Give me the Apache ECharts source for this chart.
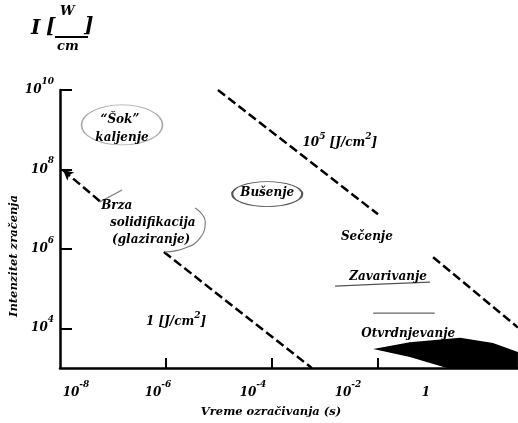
<!DOCTYPE html>
<html><head><meta charset="utf-8">
<script src="https://cdn.jsdelivr.net/npm/echarts@6/dist/echarts.min.js"></script>
<style>html,body{margin:0;padding:0;background:#fff}#c{width:518px;height:423px}</style>
</head><body><div id="c"></div>
<script>
// All coordinates are log10 exponents: x = log10(t [s]), y = log10(I [W/cm²])
const xLabelExponents = [-8, -6, -4, -2, 0];
const xTickExponents = [-6, -4, -2];
const yTickExponents = [4, 6, 8, 10];

// constant-fluence lines (dashed)
const fluence1Upper = [[-7.94, 7.98], [-7.23, 7.18]];
const fluence1Lower = [[-6.04, 5.92], [-3.25, 3.0]];
const fluence1e5Upper = [[-5.02, 10.0], [-2.0, 6.87]];
const fluence1e5Lower = [[-0.96, 5.79], [0.64, 4.02]];

// hardening region (black wedge)
const hardeningOutline = [[-2.09, 3.48], [-1.40, 3.65], [-0.45, 3.76], [0.17, 3.63], [0.64, 3.40],
  [0.64, 3.0], [-0.70, 3.0], [-1.40, 3.28]];

// process labels
const processNames = ['“Šok”', 'kaljenje', 'Brza', 'solidifikacija', '(glaziranje)', 'Bušenje', 'Sečenje', 'Zavarivanje', 'Otvrdnjevanje'];
const processX = [-6.87, -6.83, -6.93, -6.25, -6.28, -4.09, -2.21, -1.81, -1.43];
const processY = [9.25, 8.79, 7.08, 6.65, 6.22, 7.41, 6.30, 5.29, 3.86];

const fluenceNames = ['10^5 [J/cm^2]', '1 [J/cm^2]'];
const fluenceX = [-2.72, -5.81];
const fluenceY = [8.67, 4.16];

// hand-drawn decorations
const shokEllipse = [-6.83, 9.12];
const busenjeEllipse = [-4.09, 7.38];
const brzaBracket = [[-5.45, 7.03], [-5.26, 6.68], [-5.36, 6.27], [-5.64, 6.02], [-6.02, 5.92]];
const brzaLeader = [[-7.25, 7.18], [-6.83, 7.48]];
const zavarivanjeUnderline = [[-2.81, 5.06], [-1.96, 5.11], [-1.02, 5.16]];
const otvrdnjevanjeOverline = [[-2.09, 4.38], [-0.93, 4.38]];

const FONT = '"DejaVu Serif", "Liberation Serif", serif';
function ts(size, extra) {
  return Object.assign({fontFamily: FONT, fontWeight: 'bold', fontStyle: 'italic', fontSize: size, color: '#000'}, extra || {});
}

const xShift = {'-8': 16, '-6': -8, '-4': -19, '-2': -30, '0': -58};
const axisRich = {
  b: ts(12, {lineHeight: 26, verticalAlign: 'middle'}),
  s: ts(9, {lineHeight: 10, verticalAlign: 'top'})
};
Object.values(xShift).forEach(function (s) { axisRich['g' + Math.abs(s) * 2] = {width: Math.abs(s) * 2, lineHeight: 26}; });

const chart = echarts.init(document.getElementById('c'), null, {renderer: 'canvas'});
const dash = {color: '#000', width: 2.5, type: [9, 4]};
const thin = {color: '#777', width: 1.1};

chart.setOption({
  animation: false,
  backgroundColor: '#fff',
  grid: {left: 60, right: 0, top: 90, bottom: 55, outerBoundsMode: 'none', containLabel: false},
  xAxis: {
    type: 'value', min: -8, max: -8 + 458 / 53,
    axisLine: {onZero: false, lineStyle: {color: '#000', width: 2.5}},
    axisTick: {show: true, inside: true, length: 10, lineStyle: {color: '#000', width: 2}, customValues: xTickExponents},
    splitLine: {show: false},
    axisLabel: {
      customValues: xLabelExponents, margin: 12, rich: axisRich,
      formatter: function (v) {
        const r = Math.round(v);
        const s = xShift[String(r)] || 0;
        const core = r === 0 ? '{b|1}' : '{b|10}{s|' + r + '}';
        const g = '{g' + Math.abs(s) * 2 + '| }';
        return s > 0 ? g + core : (s < 0 ? core + g : core);
      }
    },
    name: 'Vreme ozračivanja (s)', nameLocation: 'middle', nameGap: 38, nameMoveOverlap: false,
    nameTextStyle: ts(11.5, {padding: [0, 36, 0, 0]})
  },
  yAxis: {
    type: 'value', min: 3, max: 10,
    axisLine: {onZero: false, lineStyle: {color: '#000', width: 2.5}},
    axisTick: {show: true, inside: true, length: 12, lineStyle: {color: '#000', width: 2}, customValues: yTickExponents},
    splitLine: {show: false},
    axisLabel: {
      customValues: yTickExponents, margin: 6, rich: axisRich,
      formatter: function (v) { return '{b|10}{s|' + Math.round(v) + '}'; }
    },
    name: 'Intenzitet zračenja', nameLocation: 'middle', nameGap: 40, nameMoveOverlap: false,
    nameTextStyle: ts(11.5, {padding: [0, 54, 0, 0]})
  },
  graphic: [
    {type: 'text', left: 31, top: 19, style: {text: 'I', font: 'italic bold 20px ' + FONT, fill: '#000'}},
    {type: 'text', left: 46, top: 18, style: {text: '[', font: 'italic bold 20px ' + FONT, fill: '#000'}},
    {type: 'text', left: 60, top: 5, style: {text: 'W', font: 'italic bold 13px ' + FONT, fill: '#000'}},
    {type: 'line', shape: {x1: 55, y1: 37, x2: 88, y2: 37}, style: {stroke: '#000', lineWidth: 1.8}},
    {type: 'text', left: 57, top: 40, style: {text: 'cm', font: 'italic bold 13px ' + FONT, fill: '#000'}},
    {type: 'text', left: 84, top: 17, style: {text: ']', font: 'italic bold 20px ' + FONT, fill: '#000'}}
  ],
  series: [
    {
      type: 'custom', silent: true, clip: false,
      data: [hardeningOutline[0]],
      renderItem: function (params, api) {
        return {type: 'polygon', shape: {points: hardeningOutline.map(function (p) { return api.coord(p); })},
          style: {fill: '#000'}};
      },
      z: 2
    },
    {type: 'line', data: fluence1Upper.map(function (p, i) {
        return i === 0 ? {value: p, symbol: 'arrow', symbolSize: [8, 10], symbolRotate: 50} : {value: p, symbol: 'none'};
      }), itemStyle: {color: '#000'}, lineStyle: dash, silent: true, z: 3},
    {type: 'line', data: fluence1Lower, symbol: 'none', lineStyle: dash, silent: true, z: 3},
    {type: 'line', data: fluence1e5Upper, symbol: 'none', lineStyle: dash, silent: true, z: 3},
    {type: 'line', data: fluence1e5Lower, symbol: 'none', lineStyle: dash, silent: true, z: 3},
    {type: 'line', data: brzaBracket, smooth: true, symbol: 'none', lineStyle: thin, silent: true},
    {type: 'line', data: brzaLeader, symbol: 'none', lineStyle: thin, silent: true},
    {type: 'line', data: zavarivanjeUnderline, smooth: true, symbol: 'none', lineStyle: {color: '#555', width: 1.2}, silent: true},
    {type: 'line', data: otvrdnjevanjeOverline, symbol: 'none', lineStyle: {color: '#666', width: 1.2}, silent: true},
    {type: 'scatter', silent: true, symbol: 'circle', itemStyle: {opacity: 1},
      data: [
        {value: shokEllipse, symbolSize: [81, 40], itemStyle: {color: 'rgba(0,0,0,0)', borderColor: '#aaa', borderWidth: 1.2, opacity: 1}},
        {value: busenjeEllipse, symbolSize: [70, 25], itemStyle: {color: 'rgba(0,0,0,0)', borderColor: '#555', borderWidth: 1.3, opacity: 1}}
      ], z: 3},
    {type: 'scatter', silent: true, symbolSize: 0, itemStyle: {opacity: 1},
      data: processNames.map(function (n, i) { return {name: n, value: [processX[i], processY[i]]}; })
        .concat(fluenceNames.map(function (n, i) { return {name: n, value: [fluenceX[i], fluenceY[i]]}; })),
      label: {show: true, position: 'inside', lineHeight: 22, formatter: function (p) {
        return p.name.replace(/\^(\d)/g, '{s|$1}');
      }, ...ts(12), rich: {s: ts(9, {verticalAlign: 'top', lineHeight: 14})}},
      z: 5}
  ]
});
</script></body></html>
